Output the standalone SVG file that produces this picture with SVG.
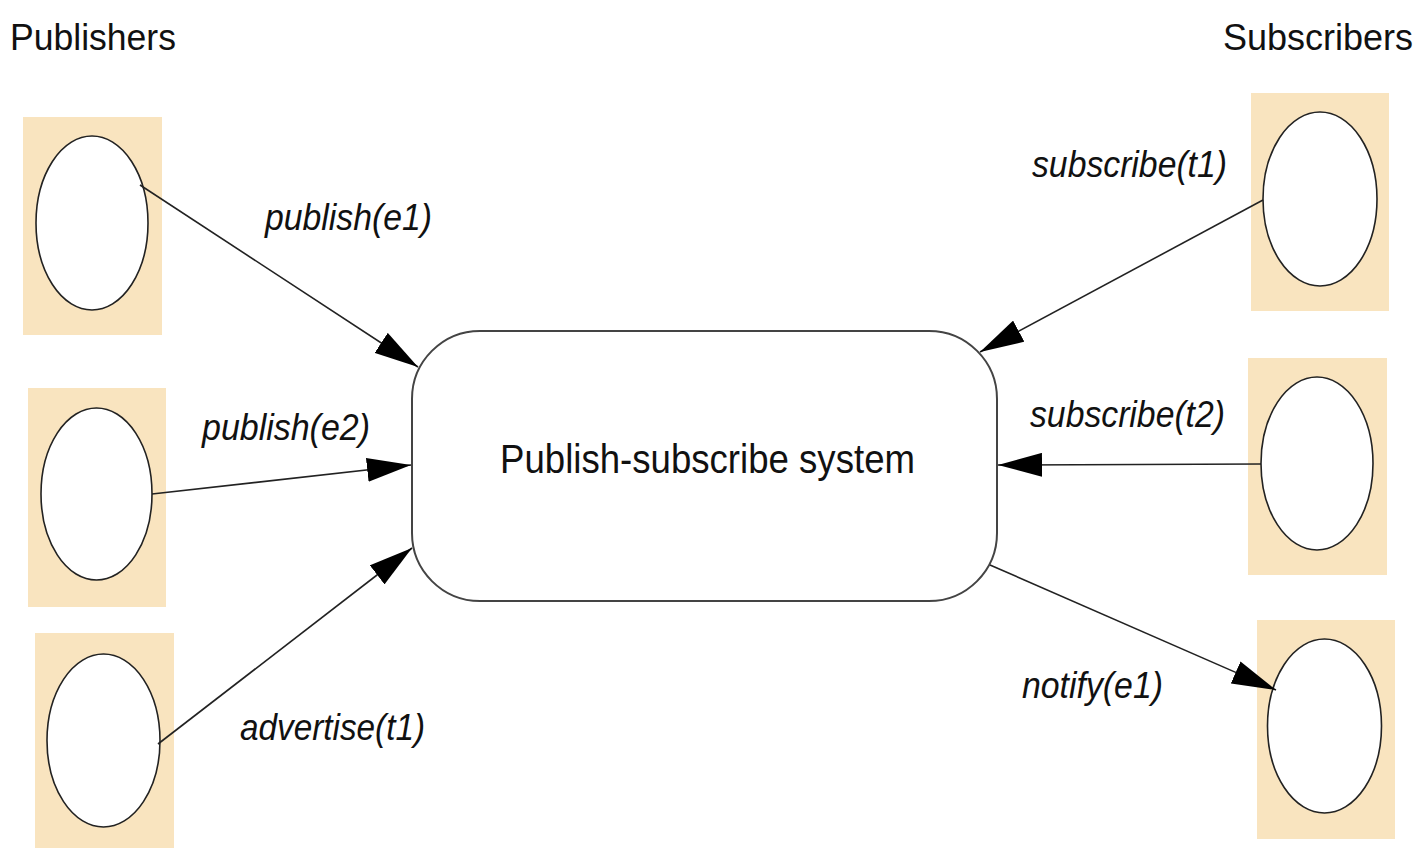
<svg xmlns="http://www.w3.org/2000/svg" width="1426" height="848" viewBox="0 0 1426 848">
<defs>
<marker id="ah" markerUnits="userSpaceOnUse" markerWidth="44" markerHeight="24" refX="44" refY="12" orient="auto">
<path d="M0,0 L44,12 L0,24 z" fill="#000"/>
</marker>
<style>
.bg{fill:#F9E4BF;}
.el{fill:#fff;stroke:#222;stroke-width:1.6;}
.sys{fill:#fff;stroke:#444;stroke-width:2;}
.hd{font-family:"Liberation Sans",Arial,sans-serif;font-size:37px;fill:#111;}
.lb{font-family:"Liberation Sans",Arial,sans-serif;font-size:36px;font-style:italic;fill:#111;}
.mt{font-family:"Liberation Sans",Arial,sans-serif;font-size:41px;fill:#111;}
.cn{fill:none;stroke:#222;stroke-width:1.6;marker-end:url(#ah);}
</style>
</defs>
<rect width="1426" height="848" fill="#fff"/>
<text class="hd" x="10" y="50" textLength="166" lengthAdjust="spacingAndGlyphs">Publishers</text>
<text class="hd" x="1223" y="50" textLength="190" lengthAdjust="spacingAndGlyphs">Subscribers</text>
<g id="pub1"><rect class="bg" x="23" y="117" width="139" height="218"/><ellipse class="el" cx="92" cy="223" rx="56" ry="87"/></g>
<g id="pub2"><rect class="bg" x="28" y="388" width="138" height="219"/><ellipse class="el" cx="96.5" cy="494" rx="55.5" ry="86"/></g>
<g id="pub3"><rect class="bg" x="35" y="633" width="139" height="215"/><ellipse class="el" cx="103.5" cy="740.5" rx="56.5" ry="86.5"/></g>
<g id="sub1"><rect class="bg" x="1251" y="93" width="138" height="218"/><ellipse class="el" cx="1320" cy="199" rx="57" ry="87"/></g>
<g id="sub2"><rect class="bg" x="1248" y="358" width="139" height="217"/><ellipse class="el" cx="1317" cy="463.5" rx="56" ry="86.5"/></g>
<g id="sub3"><rect class="bg" x="1257" y="620" width="138" height="219"/><ellipse class="el" cx="1324.5" cy="726" rx="57" ry="87"/></g>
<g id="system"><rect class="sys" x="412" y="331" width="585" height="270" rx="68" ry="68"/>
<text class="mt" x="500" y="473" textLength="415" lengthAdjust="spacingAndGlyphs">Publish-subscribe system</text></g>
<g id="connectors">
<line class="cn" x1="140" y1="185" x2="418" y2="367"/>
<line class="cn" x1="152" y1="494" x2="411" y2="465"/>
<line class="cn" x1="158" y1="744" x2="412" y2="548"/>
<line class="cn" x1="1263" y1="200" x2="980" y2="352"/>
<line class="cn" x1="1261" y1="464" x2="998" y2="465"/>
<line class="cn" x1="990" y1="565" x2="1276" y2="690"/>
</g>
<g id="labels">
<text class="lb" x="265" y="230" textLength="167" lengthAdjust="spacingAndGlyphs">publish(e1)</text>
<text class="lb" x="202" y="440" textLength="168" lengthAdjust="spacingAndGlyphs">publish(e2)</text>
<text class="lb" x="240" y="740" textLength="185" lengthAdjust="spacingAndGlyphs">advertise(t1)</text>
<text class="lb" x="1032" y="177" textLength="195" lengthAdjust="spacingAndGlyphs">subscribe(t1)</text>
<text class="lb" x="1030" y="427" textLength="195" lengthAdjust="spacingAndGlyphs">subscribe(t2)</text>
<text class="lb" x="1022" y="698" textLength="141" lengthAdjust="spacingAndGlyphs">notify(e1)</text>
</g>
</svg>
